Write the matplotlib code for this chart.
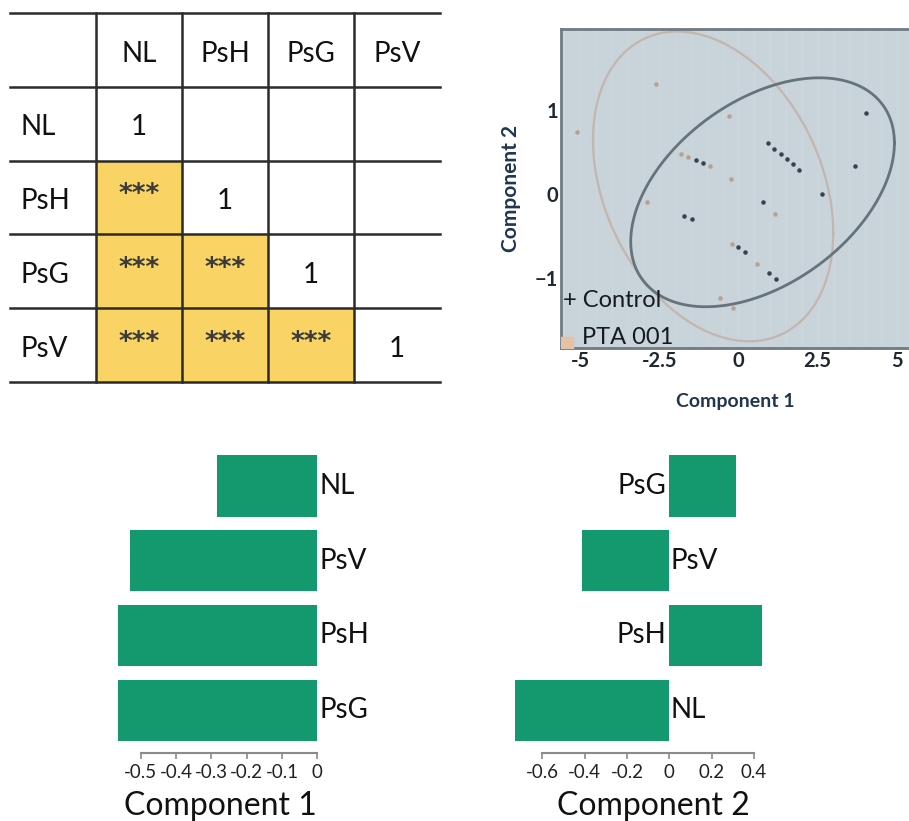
import numpy as np
import matplotlib
matplotlib.use("Agg")
import matplotlib.pyplot as plt
from matplotlib.patches import Rectangle

plt.rcParams['font.family'] = ['Lato', 'DejaVu Sans']

W, H = 909, 821

# ---- data ----
groups = ['NL', 'PsH', 'PsG', 'PsV']
# lower triangle of the significance table ('' = empty cell)
sig_table = [
    ['1', '', '', ''],
    ['***', '1', '', ''],
    ['***', '***', '1', ''],
    ['***', '***', '***', '1'],
]

ctrl_x = [4.02, -1.35, -1.11, 0.92, 1.13, 1.33, 1.52, 1.71, 1.90, 3.68, 2.63,
          0.76, -1.72, -1.48, 0.00, 0.20, 0.97, 1.17]
ctrl_y = [0.96, 0.40, 0.37, 0.60, 0.54, 0.48, 0.42, 0.36, 0.29, 0.33, 0.00,
          -0.10, -0.26, -0.30, -0.63, -0.69, -0.94, -1.01]
pta_x = [-5.09, -2.60, -0.30, -1.82, -1.58, -0.90, -0.25, -2.90, 1.15, -0.21,
         0.59, -0.58, -0.18]
pta_y = [0.74, 1.31, 0.93, 0.48, 0.44, 0.33, 0.18, -0.09, -0.24, -0.59,
         -0.83, -1.24, -1.36]

# ellipses: centre x, centre y, half-width x, half-height y, correlation
ell_ctrl = [0.76, 0.02, 4.16, 1.36, 0.43]
ell_pta = [-0.80, 0.09, 3.79, 1.84, -0.30]

comp1_names = ['NL', 'PsV', 'PsH', 'PsG']
comp1_vals = [-0.285, -0.53, -0.565, -0.565]
comp2_names = ['PsG', 'PsV', 'PsH', 'NL']
comp2_vals = [0.317, -0.413, 0.438, -0.73]

yellow = '#f9d465'
green = '#14996f'


def px_axes(x0, y0, x1, y1):
    return fig.add_axes([x0 / W, 1 - y1 / H, (x1 - x0) / W, (y1 - y0) / H])


fig = plt.figure(figsize=(W / 100, H / 100), dpi=100)

# ---- significance table ----
ax = px_axes(10, 13, 440, 382)
ax.set_xlim(0, 5)
ax.set_ylim(5, 0)
ax.axis('off')
for i in range(4):
    for j in range(4):
        val = sig_table[i][j]
        if val == '***':
            ax.add_patch(Rectangle((j + 1, i + 1), 1, 1, color=yellow, zorder=1))
            ax.text(j + 1.5, i + 1.47, val, ha='center', va='center',
                    fontsize=19, fontweight='bold', family='DejaVu Sans',
                    color='#3a3a3a', zorder=3)
        elif val:
            ax.text(j + 1.5, i + 1.55, val, ha='center', va='center',
                    fontsize=20, color='#111111', zorder=3)
for k, g in enumerate(groups):
    ax.text(k + 1.5, 0.55, g, ha='center', va='center', fontsize=20, color='#111111')
    ax.text(0.12, k + 1.55, g, ha='left', va='center', fontsize=20, color='#111111')
for k in range(6):
    ax.plot([0, 5], [k, k], color='#2b2b2b', lw=1.8, zorder=4, clip_on=False)
for k in range(1, 5):
    ax.plot([k, k], [0, 5], color='#2b2b2b', lw=1.8, zorder=4, clip_on=False)

# ---- scatter ----
ax = px_axes(561, 29, 909, 348)
ax.set_facecolor('#c9d3da')
ax.set_xlim(-5.6, 5.38)
ax.set_ylim(-1.83, 1.96)
ax.set_xticks(np.arange(-5.5, 5.5, 0.5), minor=True)
ax.grid(True, which='both', axis='x', color='#cfd8de', lw=0.7)
ax.set_axisbelow(True)
ax.set_xticks([-5, -2.5, 0, 2.5, 5])
ax.set_xticklabels(['-5', '-2.5', '0', '2.5', '5'])
ax.set_yticks([-1, 0, 1])
ax.tick_params(which='both', length=0, labelsize=14.5, labelcolor='#1e2833', pad=2)
for lab in ax.get_xticklabels() + ax.get_yticklabels():
    lab.set_fontweight('bold')
for s in ['left', 'bottom', 'top']:
    ax.spines[s].set_color('#6f7a82')
    ax.spines[s].set_linewidth(2)
ax.spines['right'].set_visible(False)

t = np.linspace(0, 2 * np.pi, 300)
for e, col, lw in [(ell_pta, '#c2b6ae', 1.6), (ell_ctrl, '#65737b', 2.0)]:
    cx, cy, sx, sy, r = e
    cov = np.array([[sx * sx, r * sx * sy], [r * sx * sy, sy * sy]])
    L = np.linalg.cholesky(cov)
    pts = L @ np.vstack([np.cos(t), np.sin(t)])
    ax.plot(cx + pts[0], cy + pts[1], color=col, lw=lw)

ax.scatter(pta_x, pta_y, s=5, color='#b9a090', zorder=3)
ax.scatter(ctrl_x, ctrl_y, s=5, color='#38434d', zorder=3)
ax.text(-5.55, -1.27, '+ Control', fontsize=17, color='#151a20', va='center')
ax.text(-4.95, -1.70, 'PTA 001', fontsize=17, color='#151a20', va='center')
ax.scatter([-5.45], [-1.78], s=110, marker='s', color='#e3c2a6', clip_on=True, zorder=4)
ax.set_xlabel('Component 1', fontsize=14, color='#1f3550', fontweight='bold', labelpad=16)
ax.set_ylabel('Component 2', fontsize=15, color='#1f3550', fontweight='bold', labelpad=10)


# ---- loading bar charts ----
def bar_panel(x0, x1, xlim, names, vals, ticks, ticklabels, xlabel, xlab_px):
    ax = px_axes(x0, 445, x1, 752.7)
    pos = np.arange(len(names))
    ax.barh(pos, vals, height=0.82, color=green)
    ax.set_xlim(*xlim)
    ax.set_ylim(3.57, -0.55)
    for p, n, v in zip(pos, names, vals):
        if v < 0:
            ax.text(0.007, p, n, ha='left', va='center', fontsize=20, color='#111111')
        else:
            ax.text(-0.015, p, n, ha='right', va='center', fontsize=20, color='#111111')
    for s in ['left', 'right', 'top']:
        ax.spines[s].set_visible(False)
    ax.spines['bottom'].set_bounds(ticks[0], ticks[-1])
    ax.spines['bottom'].set_color('#8a8a8a')
    ax.spines['bottom'].set_linewidth(1.5)
    ax.set_yticks([])
    ax.set_xticks(ticks)
    ax.set_xticklabels(ticklabels)
    ax.tick_params(axis='x', direction='out', length=4, width=1.2, color='#8a8a8a',
                   labelsize=13.5, labelcolor='#222222', pad=4)
    fig.text(xlab_px / W, 1 - 815 / H, xlabel, ha='center', va='baseline',
             fontsize=23, color='#111111')
    return ax


bar_panel(100, 330, ((100 - 317.3) / 353, (330 - 317.3) / 353),
          comp1_names, comp1_vals,
          [-0.5, -0.4, -0.3, -0.2, -0.1, 0],
          ['-0.5', '-0.4', '-0.3', '-0.2', '-0.1', '0'], 'Component 1', 220)
bar_panel(500, 780, ((500 - 669.3) / 211.5, (780 - 669.3) / 211.5),
          comp2_names, comp2_vals,
          [-0.6, -0.4, -0.2, 0, 0.2, 0.4],
          ['-0.6', '-0.4', '-0.2', '0', '0.2', '0.4'], 'Component 2', 653)

fig.savefig('out.png', dpi=100)
